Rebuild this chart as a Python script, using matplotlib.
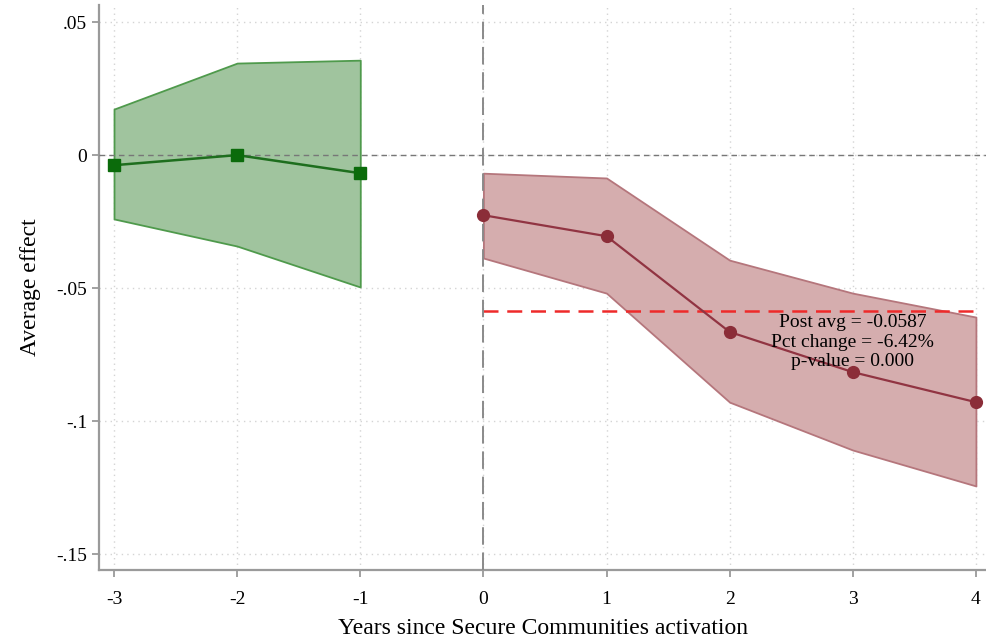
import numpy as np
import matplotlib.pyplot as plt

plt.rcParams['font.family'] = ['Liberation Serif', 'DejaVu Serif']

# event-study estimates
pre_years = [-3, -2, -1]
pre_coef = [-0.0038, 0.0000, -0.0068]
pre_lo = [-0.0240, -0.0342, -0.0496]
pre_hi = [0.0173, 0.0346, 0.0357]

post_years = [0, 1, 2, 3, 4]
post_coef = [-0.0226, -0.0305, -0.0665, -0.0816, -0.0929]
post_lo = [-0.0387, -0.0519, -0.0929, -0.1109, -0.1244]
post_hi = [-0.0068, -0.0086, -0.0395, -0.0519, -0.0609]

post_avg = -0.0587
note = "Post avg = -0.0587\nPct change = -6.42%\np-value = 0.000"

xticks = [-3, -2, -1, 0, 1, 2, 3, 4]
yticks = [0.05, 0, -0.05, -0.1, -0.15]
ytick_labels = [".05", "0", "-.05", "-.1", "-.15"]

fig = plt.figure(figsize=(9.87, 6.38), dpi=100)
ax = fig.add_axes([0.1003, 0.1066, 0.8997, 0.8854])

ax.fill_between(pre_years, pre_lo, pre_hi, facecolor='#a0c49e',
                edgecolor='#4f9a4c', linewidth=1.3, zorder=2)
ax.plot(pre_years, pre_coef, color='#1e6e1e', linewidth=1.8,
        marker='s', markersize=9, markerfacecolor='#0b6b0b',
        markeredgecolor='#0b6b0b', zorder=4)

ax.fill_between(post_years, post_lo, post_hi, facecolor='#d5adae',
                edgecolor='#b5767c', linewidth=1.3, zorder=2)
ax.plot(post_years, post_coef, color='#913442', linewidth=1.6,
        marker='o', markersize=8.5, markerfacecolor='#8b2d38',
        markeredgecolor='#8b2d38', zorder=4)

ax.plot([0, 4], [post_avg, post_avg], color='#ee2a2a', linewidth=1.8,
        linestyle=(0, (6, 3.5)), zorder=3)

ax.axhline(0, color='#777777', linewidth=1.0, linestyle=(0, (4, 3)), zorder=3)
ax.axvline(0, color='#8a8a8a', linewidth=1.4, linestyle=(0, (9, 4)), zorder=3)

ax.text(3, -0.0703, note, ha='center', va='center', fontsize=14,
        linespacing=1.17, zorder=5)

ax.set_xlim(-3.122, 4.09)
ax.set_ylim(-0.156, 0.0564)
ax.set_xticks(xticks)
ax.set_xticklabels([str(t) for t in xticks])
ax.set_yticks(yticks)
ax.set_yticklabels(ytick_labels)

ax.grid(True, color='#d4d4d4', linestyle=(0, (1, 3)), linewidth=1.0, zorder=0)
ax.set_axisbelow(True)

for side in ['top', 'right']:
    ax.spines[side].set_visible(False)
for side in ['left', 'bottom']:
    ax.spines[side].set_color('#9a9a9a')
    ax.spines[side].set_linewidth(1.6)

ax.tick_params(axis='both', colors='#9a9a9a', labelcolor='black',
               length=5, width=1.3, labelsize=14)
ax.tick_params(axis='x', pad=10)

ax.set_xlabel("Years since Secure Communities activation", fontsize=17, labelpad=7)
ax.set_ylabel("Average effect", fontsize=17, labelpad=11)

fig.savefig('out.png', dpi=100)
